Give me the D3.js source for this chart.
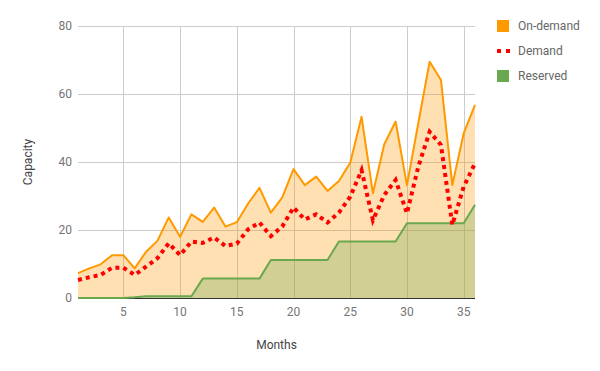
<!DOCTYPE html>
<html>
<head>
<meta charset="utf-8">
<script src="https://cdn.jsdelivr.net/npm/d3@7"></script>
<style>
    body { margin: 0; background: #fff; }
    text { font-family: Roboto, "Noto Sans", sans-serif; }
</style>
</head>
<body>
<div id="chart"></div>
<script>
(function()
{
    "use strict";

    // values, month 1..36
    var months = d3.range(1, 37);
    var onDemand = [7.3, 8.7, 9.9, 12.6, 12.6, 8.7, 13.6, 16.8, 23.7, 18.0,
                    24.6, 22.4, 26.6, 21.0, 22.3, 27.8, 32.4, 25.1, 29.5, 37.9,
                    33.2, 35.7, 31.5, 34.4, 39.8, 53.3, 30.8, 45.2, 51.9, 33.2,
                    51.4, 69.5, 64.1, 33.2, 48.4, 56.8];
    var demand   = [5.3, 6.1, 6.8, 8.9, 8.9, 6.8, 9.2, 11.7, 16.1, 12.6,
                    16.6, 16.2, 17.8, 15.3, 16.0, 20.2, 22.2, 18.2, 21.0, 26.6,
                    23.1, 24.6, 22.2, 25.1, 29.8, 37.6, 22.9, 30.3, 34.7, 24.9,
                    38.6, 48.9, 45.0, 21.5, 32.7, 39.6];
    var reserved = [0, 0, 0, 0, 0, 0.2, 0.5, 0.5, 0.5, 0.5,
                    0.5, 5.7, 5.7, 5.7, 5.7, 5.7, 5.7, 11.2, 11.2, 11.2,
                    11.2, 11.2, 11.2, 16.6, 16.6, 16.6, 16.6, 16.6, 16.6, 22.0,
                    22.0, 22.0, 22.0, 22.0, 22.0, 27.4];
    var xTicks = [5, 10, 15, 20, 25, 30, 35];
    var yTicks = [0, 20, 40, 60, 80];
    var legendNames = ["On-demand", "Demand", "Reserved"];

    var width = 600, height = 371;
    var left = 78, right = 475, top = 26, bottom = 298;

    var svg = d3.select("#chart")
                .append("svg")
                .attr("width", width)
                .attr("height", height);

    // #########################################################################
    var xScale = d3.scaleLinear()
                 .domain([1, 36])
                 .range([left, right]);

    var yScale = d3.scaleLinear()
                 .domain([0, 80])
                 .range([bottom, top]);
    // #########################################################################

    // gridlines
    svg.append("g")
       .selectAll("line")
       .data(xTicks)
       .enter()
       .append("line")
       .attr("x1", (d) => Math.round(xScale(d)) + 0.5)
       .attr("x2", (d) => Math.round(xScale(d)) + 0.5)
       .attr("y1", top)
       .attr("y2", bottom)
       .attr("stroke", "#cccccc");

    svg.append("g")
       .selectAll("line")
       .data(yTicks.slice(1))
       .enter()
       .append("line")
       .attr("x1", left)
       .attr("x2", right)
       .attr("y1", (d) => Math.round(yScale(d)) + 0.5)
       .attr("y2", (d) => Math.round(yScale(d)) + 0.5)
       .attr("stroke", "#cccccc");

    // tick labels
    svg.append("g")
       .selectAll("text")
       .data(yTicks)
       .enter()
       .append("text")
       .attr("x", left - 6)
       .attr("y", (d) => yScale(d) + 4)
       .attr("text-anchor", "end")
       .attr("font-size", 12)
       .attr("fill", "#757575")
       .text((d) => d);

    svg.append("g")
       .selectAll("text")
       .data(xTicks)
       .enter()
       .append("text")
       .attr("x", (d) => xScale(d))
       .attr("y", bottom + 18)
       .attr("text-anchor", "middle")
       .attr("font-size", 12)
       .attr("fill", "#757575")
       .text((d) => d);

    // #########################################################################
    var area = (vals) => d3.area()
                           .x((d, i) => xScale(months[i]))
                           .y0(yScale(0))
                           .y1((d) => yScale(d))(vals);

    var line = (vals) => d3.line()
                           .x((d, i) => xScale(months[i]))
                           .y((d) => yScale(d))(vals);

    svg.append("path")
       .attr("d", area(onDemand))
       .attr("fill", "#ff9900")
       .attr("fill-opacity", 0.3);

    svg.append("path")
       .attr("d", area(reserved))
       .attr("fill", "#6aa84f")
       .attr("fill-opacity", 0.3);

    // baseline
    svg.append("line")
       .attr("x1", left)
       .attr("x2", right)
       .attr("y1", bottom + 0.5)
       .attr("y2", bottom + 0.5)
       .attr("stroke", "#333333");

    svg.append("path")
       .attr("d", line(onDemand))
       .attr("fill", "none")
       .attr("stroke", "#ff9900")
       .attr("stroke-width", 2)
       .attr("stroke-linejoin", "round");

    svg.append("path")
       .attr("d", line(reserved))
       .attr("fill", "none")
       .attr("stroke", "#6aa84f")
       .attr("stroke-width", 2)
       .attr("stroke-linejoin", "round");

    svg.append("path")
       .attr("d", line(demand))
       .attr("fill", "none")
       .attr("stroke", "#ff0000")
       .attr("stroke-width", 4)
       .attr("stroke-dasharray", "4,4");
    // #########################################################################

    // axis titles
    svg.append("text")
       .attr("x", (left + right) / 2)
       .attr("y", 349)
       .attr("text-anchor", "middle")
       .attr("font-size", 12)
       .attr("fill", "#444444")
       .text("Months");

    svg.append("text")
       .attr("transform", `translate(32,${(top + bottom) / 2}) rotate(-90)`)
       .attr("text-anchor", "middle")
       .attr("font-size", 12)
       .attr("fill", "#444444")
       .text("Capacity");

    // legend
    var legend = svg.append("g")
                    .selectAll("g")
                    .data(legendNames)
                    .enter()
                    .append("g")
                    .attr("transform", (d, i) => `translate(497,${26 + i * 25})`);

    legend.filter((d, i) => i !== 1)
          .append("rect")
          .attr("x", 0)
          .attr("y", -6)
          .attr("width", 12)
          .attr("height", 12)
          .attr("fill", (d, i) => i === 0 ? "#ff9900" : "#6aa84f");

    legend.filter((d, i) => i === 1)
          .append("line")
          .attr("x1", 0)
          .attr("x2", 14)
          .attr("y1", 0)
          .attr("y2", 0)
          .attr("stroke", "#ff0000")
          .attr("stroke-width", 4)
          .attr("stroke-dasharray", "4,5");

    legend.append("text")
          .attr("x", 21)
          .attr("y", 4)
          .attr("font-size", 12)
          .attr("fill", "#666666")
          .text((d) => d);
}
)();
</script>
</body>
</html>
